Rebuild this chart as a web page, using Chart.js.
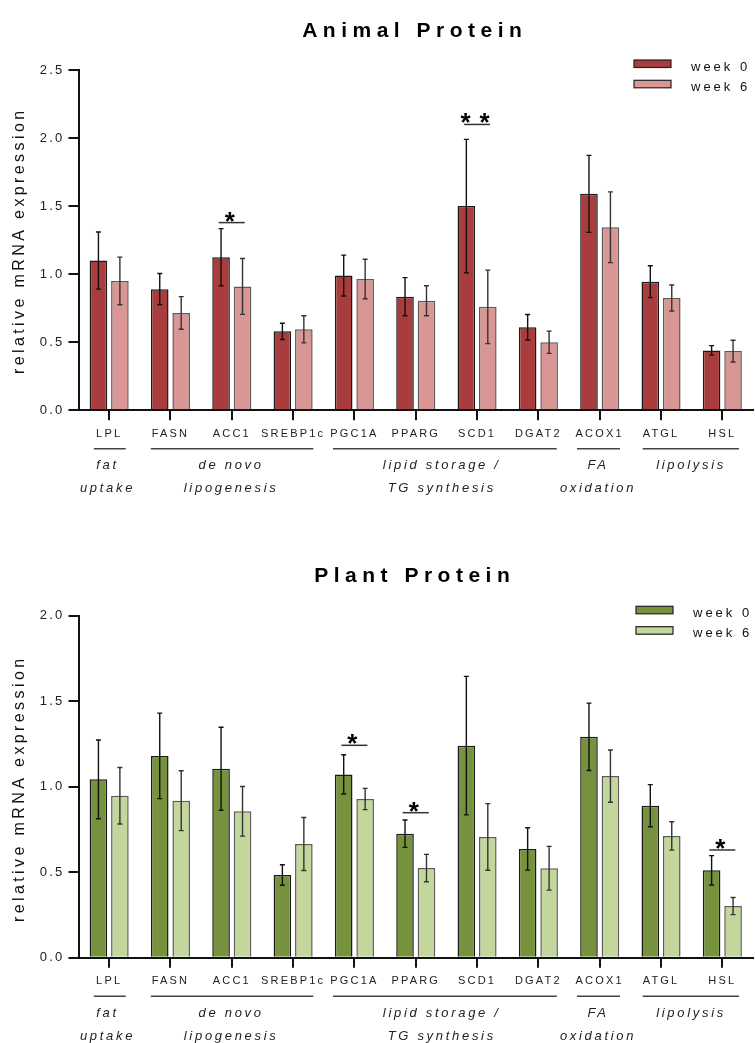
<!DOCTYPE html>
<html><head><meta charset="utf-8">
<script src="https://cdn.jsdelivr.net/npm/chart.js@4.4.1/dist/chart.umd.min.js"></script>
<style>
html,body{margin:0;padding:0;background:#fff;}
#wrap{position:relative;width:755px;height:1043px;overflow:hidden;background:#fff;}
canvas{position:absolute;left:0;}
#c1{top:0;width:755px;height:520px;}
#c2{top:520px;width:755px;height:523px;}
</style></head><body>
<div id="wrap"><canvas id="c1" width="755" height="520"></canvas><canvas id="c2" width="755" height="523"></canvas></div>
<script>
// ---------- data ----------
const categories = ['LPL','FASN','ACC1','SREBP1c','PGC1A','PPARG','SCD1','DGAT2','ACOX1','ATGL','HSL'];
const seriesNames = ['week 0','week 6'];

const animalWeek0    = [1.10, 0.89, 1.125, 0.58, 0.99, 0.835, 1.50, 0.61, 1.59, 0.945, 0.44];
const animalWeek0Err = [0.21, 0.115, 0.21, 0.06, 0.15, 0.14, 0.49, 0.094, 0.283, 0.117, 0.035];
const animalWeek6    = [0.95, 0.715, 0.91, 0.595, 0.965, 0.805, 0.76, 0.50, 1.345, 0.825, 0.435];
const animalWeek6Err = [0.175, 0.12, 0.205, 0.10, 0.145, 0.11, 0.27, 0.082, 0.26, 0.095, 0.08];

const plantWeek0    = [1.043, 1.18, 1.105, 0.484, 1.072, 0.725, 1.24, 0.636, 1.292, 0.889, 0.511];
const plantWeek0Err = [0.23, 0.25, 0.243, 0.06, 0.115, 0.08, 0.405, 0.124, 0.197, 0.123, 0.086];
const plantWeek6    = [0.947, 0.918, 0.856, 0.665, 0.928, 0.524, 0.706, 0.523, 1.062, 0.712, 0.302];
const plantWeek6Err = [0.165, 0.175, 0.145, 0.155, 0.062, 0.08, 0.195, 0.128, 0.153, 0.083, 0.05];

const animalYTicks = ['0.0','0.5','1.0','1.5','2.0','2.5'];
const plantYTicks  = ['0.0','0.5','1.0','1.5','2.0'];

// significance markers: category, stars, bracket level (data units)
const animalSig = [{cat:'ACC1', stars:1, level:1.379}, {cat:'SCD1', stars:2, level:2.10}];
const plantSig  = [{cat:'PGC1A', stars:1, level:1.242}, {cat:'PPARG', stars:1, level:0.848}, {cat:'HSL', stars:1, level:0.63}];

const groups = [
  {name:['fat','uptake'], first:'LPL', last:'LPL'},
  {name:['de novo','lipogenesis'], first:'FASN', last:'SREBP1c'},
  {name:['lipid storage /','TG synthesis'], first:'PGC1A', last:'DGAT2'},
  {name:['FA','oxidation'], first:'ACOX1', last:'ACOX1'},
  {name:['lipolysis'], first:'ATGL', last:'HSL'}
];

// ---------- layout / style ----------
const FONT = "'Liberation Sans', Arial, Helvetica, sans-serif";
const groupLineExt = [[0.25,0.27],[0.32,0.33],[0.35,0.30],[0.37,0.33],[0.30,0.27]];
const groupTextDx = [-3, -2, -6, -3, -2];

function makeChart(id, o) {
  const canvas = document.getElementById(id);
  const H = canvas.height;
  const overlay = {
    id: 'overlay',
    beforeDraw(chart) {
      chart.ctx.letterSpacing = '2.2px';
    },
    afterDatasetsDraw(chart) {
      const ctx = chart.ctx, ys = chart.scales.y;
      [[0, o.e0], [1, o.e6]].forEach(([di, errs]) => {
        const meta = chart.getDatasetMeta(di);
        meta.data.forEach((bar, i) => {
          const v = chart.data.datasets[di].data[i];
          const yt = ys.getPixelForValue(v + errs[i]);
          const yb = ys.getPixelForValue(v - errs[i]);
          ctx.save();
          ctx.strokeStyle = di === 0 ? '#111' : '#333';
          ctx.lineWidth = 1.4;
          ctx.beginPath();
          ctx.moveTo(bar.x, yt); ctx.lineTo(bar.x, yb);
          ctx.moveTo(bar.x - 2.5, yt); ctx.lineTo(bar.x + 2.5, yt);
          ctx.moveTo(bar.x - 2.5, yb); ctx.lineTo(bar.x + 2.5, yb);
          ctx.stroke();
          ctx.restore();
        });
      });
    },
    afterDraw(chart) {
      const ctx = chart.ctx, xs = chart.scales.x, ys = chart.scales.y, ca = chart.chartArea;
      ctx.save();
      // title
      ctx.fillStyle = '#000';
      ctx.font = 'bold 21px ' + FONT;
      ctx.letterSpacing = '5.5px';
      ctx.textAlign = 'center';
      ctx.textBaseline = 'alphabetic';
      ctx.fillText(o.title, o.titleX + 2.75, o.titleY);
      // y axis title
      ctx.save();
      ctx.translate(20, o.yTitleY);
      ctx.rotate(-Math.PI / 2);
      ctx.font = '16px ' + FONT;
      ctx.letterSpacing = '3.4px';
      ctx.textAlign = 'center';
      ctx.textBaseline = 'middle';
      ctx.fillStyle = '#111';
      ctx.fillText('relative mRNA expression', 1.7, 0);
      ctx.restore();
      // legend
      ctx.font = '13px ' + FONT;
      ctx.letterSpacing = '3px';
      ctx.textAlign = 'left';
      ctx.textBaseline = 'alphabetic';
      [o.c0, o.c6].forEach((c, k) => {
        const top = o.legY[k];
        ctx.fillStyle = c;
        ctx.fillRect(o.legX, top, 37, 7.5);
        ctx.strokeStyle = '#222';
        ctx.lineWidth = 1.2;
        ctx.strokeRect(o.legX, top, 37, 7.5);
        ctx.fillStyle = '#111';
        ctx.fillText(seriesNames[k], o.legTextX, o.legTextY[k]);
      });
      // significance
      ctx.letterSpacing = '0px';
      ctx.font = 'bold 26px ' + FONT;
      const m = ctx.measureText('*');
      const gc = (m.actualBoundingBoxAscent - m.actualBoundingBoxDescent) / 2;
      o.sig.forEach(s => {
        const i = categories.indexOf(s.cat);
        const cx = xs.getPixelForValue(i);
        const ly = ys.getPixelForValue(s.level);
        ctx.strokeStyle = '#333';
        ctx.lineWidth = 1.5;
        ctx.beginPath(); ctx.moveTo(cx - 13, ly); ctx.lineTo(cx + 13, ly); ctx.stroke();
        ctx.fillStyle = '#000';
        ctx.textAlign = 'center';
        for (let k = 0; k < s.stars; k++) {
          const sx = cx - 2 + (k - (s.stars - 1) / 2) * 19;
          ctx.fillText('*', sx, ly - 6 + gc);
        }
      });
      // groups
      const catW = (ca.right - ca.left) / categories.length;
      groups.forEach((g, gi) => {
        const x1 = xs.getPixelForValue(categories.indexOf(g.first)) - groupLineExt[gi][0] * catW;
        const x2 = xs.getPixelForValue(categories.indexOf(g.last)) + groupLineExt[gi][1] * catW;
        const ly = ca.bottom + 38.5;
        ctx.strokeStyle = '#444';
        ctx.lineWidth = 1.5;
        ctx.beginPath(); ctx.moveTo(x1, ly); ctx.lineTo(x2, ly); ctx.stroke();
        const mid = (xs.getPixelForValue(categories.indexOf(g.first)) + xs.getPixelForValue(categories.indexOf(g.last))) / 2 + groupTextDx[gi];
        ctx.font = 'italic 13px ' + FONT;
        ctx.letterSpacing = '2.7px';
        ctx.fillStyle = '#222';
        ctx.textAlign = 'center';
        ctx.textBaseline = 'middle';
        g.name.forEach((t, li) => {
          ctx.fillText(t, mid + 1.35, ca.bottom + 55.5 + li * 23);
        });
      });
      ctx.restore();
      ctx.letterSpacing = '0px';
    }
  };
  return new Chart(canvas, {
    type: 'bar',
    data: {
      labels: categories,
      datasets: [
        {label: seriesNames[0], data: o.w0, backgroundColor: o.c0, borderColor: '#1a1a1a', borderWidth: 1.5, categoryPercentage: 0.7, barPercentage: 0.82},
        {label: seriesNames[1], data: o.w6, backgroundColor: o.c6, borderColor: '#5a5a5a', borderWidth: 1.5, categoryPercentage: 0.7, barPercentage: 0.82}
      ]
    },
    options: {
      responsive: false, animation: false, devicePixelRatio: 1,
      layout: {padding: {top: o.top, left: 0, right: 2, bottom: 0}},
      plugins: {legend: {display: false}, title: {display: false}, tooltip: {enabled: false}},
      scales: {
        x: {
          grid: {display: true, drawOnChartArea: false, drawTicks: true, tickLength: 10, offset: false, color: '#111', lineWidth: 2},
          border: {display: true, color: '#111', width: 2},
          ticks: {font: {family: FONT, size: 11}, color: '#222', padding: 7, maxRotation: 0, minRotation: 0, autoSkip: false},
          afterFit(s) { s.height = H - o.bottom; }
        },
        y: {
          min: 0, max: o.max,
          grid: {display: true, drawOnChartArea: false, drawTicks: true, tickLength: 10, color: '#111', lineWidth: 2},
          border: {display: true, color: '#111', width: 2},
          ticks: {stepSize: 0.5, font: {family: FONT, size: 13}, color: '#222', padding: 4,
                  callback: (v, i) => o.yTicks[i]},
          afterFit(s) { s.width = 78.5; }
        }
      }
    },
    plugins: [overlay]
  });
}

makeChart('c1', {
  title: 'Animal Protein', titleX: 412, titleY: 36.5, yTitleY: 242.5,
  w0: animalWeek0, w6: animalWeek6, e0: animalWeek0Err, e6: animalWeek6Err,
  c0: '#A93C3C', c6: '#D99694', sig: animalSig, yTicks: animalYTicks, max: 2.5,
  top: 70, bottom: 410.3,
  legX: 634, legY: [60, 80.3], legTextX: 691, legTextY: [70.5, 91]
});
makeChart('c2', {
  title: 'Plant Protein', titleX: 412, titleY: 62, yTitleY: 270.5,
  w0: plantWeek0, w6: plantWeek6, e0: plantWeek0Err, e6: plantWeek6Err,
  c0: '#76923C', c6: '#C3D69B', sig: plantSig, yTicks: plantYTicks, max: 2.0,
  top: 95.7, bottom: 437.7,
  legX: 636, legY: [86.3, 106.7], legTextX: 693, legTextY: [97, 117]
});
</script>
</body></html>
